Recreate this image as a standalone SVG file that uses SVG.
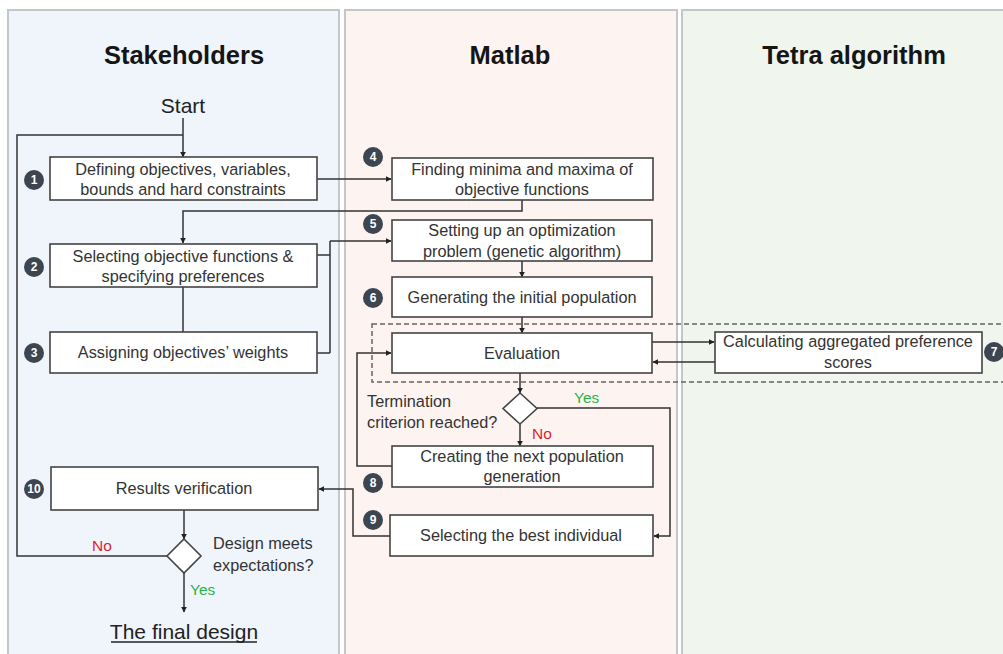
<svg xmlns="http://www.w3.org/2000/svg" width="1003" height="654" viewBox="0 0 1003 654">
<style>
.lane{stroke:#c4c7ca;stroke-width:2}
.title{font-family:"Liberation Sans",Arial,sans-serif;font-weight:bold;font-size:25.5px;fill:#151515;text-anchor:middle}
.box{fill:#fff;stroke:#444;stroke-width:1.6}
.t{font-family:"Liberation Sans",Arial,sans-serif;font-size:16.3px;fill:#333;text-anchor:middle}
.tl{font-family:"Liberation Sans",Arial,sans-serif;font-size:16.3px;fill:#333}
.big{font-family:"Liberation Sans",Arial,sans-serif;font-size:21px;fill:#222;text-anchor:middle}
.c{fill:none;stroke:#333;stroke-width:1.5}
.a{marker-end:url(#ah)}
.dash{fill:none;stroke:#666;stroke-width:1.5;stroke-dasharray:5 3}
.badge circle{fill:#3c4550}
.badge text{font-family:"Liberation Sans",Arial,sans-serif;font-weight:bold;font-size:12px;fill:#fff;text-anchor:middle}
.yes{font-family:"Liberation Sans",Arial,sans-serif;font-size:15.5px;fill:#2bb34a}
.no{font-family:"Liberation Sans",Arial,sans-serif;font-size:15.5px;fill:#d9262e}
</style>
<defs>
<marker id="ah" viewBox="0 0 10 10" refX="9" refY="5" markerWidth="6" markerHeight="6" markerUnits="userSpaceOnUse" orient="auto">
<path d="M0,0 L10,5 L0,10 z" fill="#222"/>
</marker>
</defs>
<rect width="1003" height="654" fill="#fff"/>
<g id="lanes">
<rect class="lane" x="8" y="10" width="331" height="660" fill="#f0f5fc"/>
<rect class="lane" x="345" y="10" width="332" height="660" fill="#fdf4f1"/>
<rect class="lane" x="682" y="10" width="330" height="660" fill="#f0f5ee"/>
<text class="title" x="184" y="64">Stakeholders</text>
<text class="title" x="510" y="64">Matlab</text>
<text class="title" x="854" y="64">Tetra algorithm</text>
</g>
<rect id="loop-region" class="dash" x="372" y="324" width="640" height="58"/>
<g id="connectors">
<path class="c a" d="M183,118 V157"/>
<path class="c" d="M183,135 H17 V556 H167"/>
<path class="c a" d="M317,179 H391"/>
<path class="c a" d="M522,200 V211 H183 V243"/>
<path class="c" d="M183,287 V332"/>
<path class="c" d="M317,255 H330 M317,353 H330 M330,353 V241"/>
<path class="c a" d="M330,241 H391"/>
<path class="c a" d="M522,261 V277"/>
<path class="c a" d="M522,317 V333"/>
<path class="c a" d="M652,342 H714"/>
<path class="c a" d="M715,362 H653"/>
<path class="c a" d="M520,373 V393"/>
<path class="c a" d="M520,424 V446"/>
<path class="c a" d="M537,408 H670 V536 H654"/>
<path class="c a" d="M392,466 H357 V353 H391"/>
<path class="c a" d="M390,536 H353 V489 H319"/>
<path class="c a" d="M184,510 V539"/>
<path class="c a" d="M184,573 V612"/>
</g>
<g id="start"><text class="big" x="183" y="113">Start</text></g>
<g id="n1"><rect class="box" x="50" y="157" width="267" height="43"/><text class="t" x="183" y="175">Defining objectives, variables,</text><text class="t" x="183" y="195">bounds and hard constraints</text></g>
<g id="n2"><rect class="box" x="50" y="244" width="267" height="43"/><text class="t" x="183" y="262">Selecting objective functions &amp;</text><text class="t" x="183" y="282">specifying preferences</text></g>
<g id="n3"><rect class="box" x="50" y="332" width="267" height="41"/><text class="t" x="183" y="358">Assigning objectives’ weights</text></g>
<g id="n4"><rect class="box" x="392" y="158" width="261" height="42"/><text class="t" x="522" y="175">Finding minima and maxima of</text><text class="t" x="522" y="195">objective functions</text></g>
<g id="n5"><rect class="box" x="392" y="220" width="260" height="41"/><text class="t" x="522" y="236">Setting up an optimization</text><text class="t" x="522" y="257">problem (genetic algorithm)</text></g>
<g id="n6"><rect class="box" x="392" y="277" width="260" height="40"/><text class="t" x="522" y="303">Generating the initial population</text></g>
<g id="n-eval"><rect class="box" x="392" y="333" width="260" height="40"/><text class="t" x="522" y="359">Evaluation</text></g>
<g id="n7"><rect class="box" x="715" y="332" width="267" height="41"/><text class="t" x="848" y="347">Calculating aggregated preference</text><text class="t" x="848" y="368">scores</text></g>
<g id="d-term"><path class="box" d="M520,393 L537,408.5 L520,424 L503,408.5 z"/><text class="tl" x="367" y="407">Termination</text><text class="tl" x="367" y="428">criterion reached?</text><text class="yes" x="574" y="403">Yes</text><text class="no" x="532" y="439">No</text></g>
<g id="n8"><rect class="box" x="392" y="446" width="261" height="41"/><text class="t" x="522" y="462">Creating the next population</text><text class="t" x="522" y="482">generation</text></g>
<g id="n9"><rect class="box" x="390" y="515" width="263" height="41"/><text class="t" x="521" y="541">Selecting the best individual</text></g>
<g id="n10"><rect class="box" x="51" y="467" width="267" height="43"/><text class="t" x="184" y="494">Results verification</text></g>
<g id="d-design"><path class="box" d="M184,539 L201,556 L184,573 L167,556 z"/><text class="tl" x="213" y="549">Design meets</text><text class="tl" x="213" y="571">expectations?</text><text class="no" x="92" y="551">No</text><text class="yes" x="190" y="595">Yes</text></g>
<g id="end"><text class="big" x="184" y="639">The final design</text><line x1="111" y1="642" x2="257" y2="642" stroke="#222" stroke-width="1.3"/></g>
<g id="badges">
<g class="badge"><circle cx="34" cy="180" r="10"/><text x="34" y="184">1</text></g>
<g class="badge"><circle cx="34" cy="267" r="10"/><text x="34" y="271">2</text></g>
<g class="badge"><circle cx="34" cy="353" r="10"/><text x="34" y="357">3</text></g>
<g class="badge"><circle cx="373" cy="157" r="10"/><text x="373" y="161">4</text></g>
<g class="badge"><circle cx="373" cy="224" r="10"/><text x="373" y="228">5</text></g>
<g class="badge"><circle cx="373" cy="298" r="10"/><text x="373" y="302">6</text></g>
<g class="badge"><circle cx="994" cy="352" r="10"/><text x="994" y="356">7</text></g>
<g class="badge"><circle cx="373" cy="483" r="10"/><text x="373" y="487">8</text></g>
<g class="badge"><circle cx="373" cy="520" r="10"/><text x="373" y="524">9</text></g>
<g class="badge"><circle cx="34" cy="489" r="10"/><text x="34" y="493">10</text></g>
</g>
</svg>
